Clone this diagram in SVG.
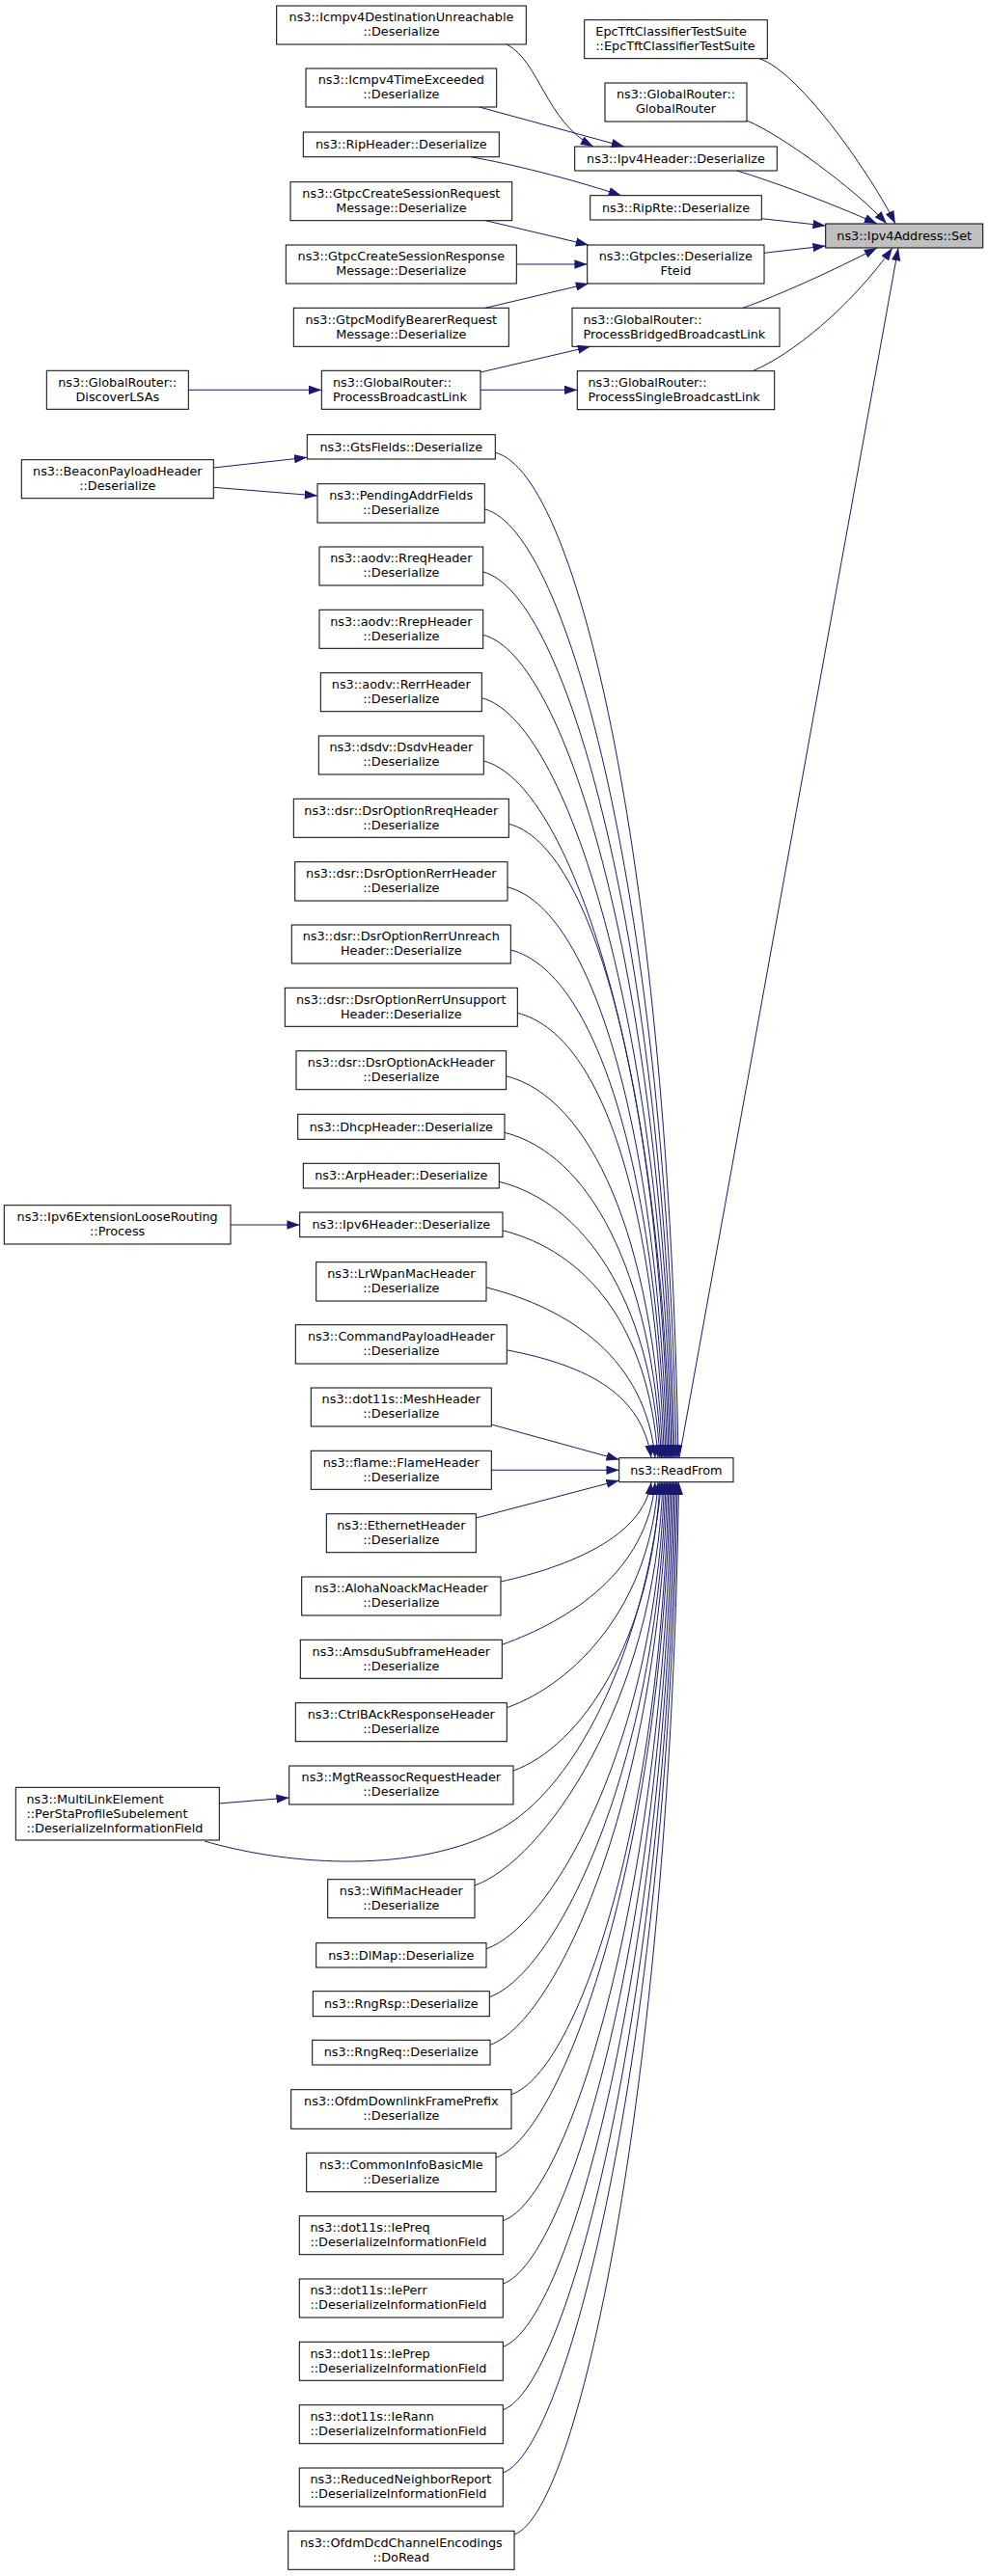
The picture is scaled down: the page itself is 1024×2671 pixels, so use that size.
<svg xmlns="http://www.w3.org/2000/svg" width="1024" height="2671" viewBox="0 0 1024 2671">
<style>
.n rect{fill:#ffffff;stroke:#000000;stroke-width:1}
.n rect.root{fill:#bfbfbf}
text{font-family:"DejaVu Sans","Liberation Sans",sans-serif;font-size:12.8px;fill:#000000}
text.c{text-anchor:middle}
text.l{text-anchor:start}
#edges path{fill:none;stroke:#191970;stroke-width:1;marker-end:url(#ah)}
</style>
<defs>
<marker id="ah" viewBox="0 0 10 7" refX="10" refY="3.5" markerWidth="13.3" markerHeight="9.3" markerUnits="userSpaceOnUse" orient="auto"><path d="M0,0 L10,3.5 L0,7 z" fill="#191970"/></marker>
</defs>
<rect width="1024" height="2671" fill="#ffffff"/>
<g id="nodes">
<g id="n_icmpdest" class="n"><rect x="286.7" y="6" width="258.6" height="40"/><text class="c"><tspan x="416" y="22.3">ns3::Icmpv4DestinationUnreachable</tspan><tspan x="416" y="37.3">::Deserialize</tspan></text></g>
<g id="n_icmptime" class="n"><rect x="317" y="71" width="197.7" height="40"/><text class="c"><tspan x="415.85" y="87.3">ns3::Icmpv4TimeExceeded</tspan><tspan x="415.85" y="102.3">::Deserialize</tspan></text></g>
<g id="n_ripheader" class="n"><rect x="314.3" y="137" width="203" height="25.7"/><text class="c" x="415.8" y="154.2">ns3::RipHeader::Deserialize</text></g>
<g id="n_gtpcreq" class="n"><rect x="301" y="188.7" width="229.7" height="40"/><text class="c"><tspan x="415.85" y="205">ns3::GtpcCreateSessionRequest</tspan><tspan x="415.85" y="220">Message::Deserialize</tspan></text></g>
<g id="n_gtpcresp" class="n"><rect x="296.3" y="254" width="239" height="40"/><text class="c"><tspan x="415.8" y="270.3">ns3::GtpcCreateSessionResponse</tspan><tspan x="415.8" y="285.3">Message::Deserialize</tspan></text></g>
<g id="n_gtpcmod" class="n"><rect x="304.3" y="319.3" width="223" height="40"/><text class="c"><tspan x="415.8" y="335.6">ns3::GtpcModifyBearerRequest</tspan><tspan x="415.8" y="350.6">Message::Deserialize</tspan></text></g>
<g id="n_procbcast" class="n"><rect x="333.3" y="384.3" width="164.7" height="40"/><text class="l"><tspan x="345" y="400.6">ns3::GlobalRouter::</tspan><tspan x="345" y="415.6">ProcessBroadcastLink</tspan></text></g>
<g id="n_discover" class="n"><rect x="48.3" y="384.3" width="147" height="40"/><text class="c"><tspan x="121.8" y="400.6">ns3::GlobalRouter::</tspan><tspan x="121.8" y="415.6">DiscoverLSAs</tspan></text></g>
<g id="n_epctft" class="n"><rect x="605.7" y="20.7" width="189.6" height="40"/><text class="l"><tspan x="617.3" y="37">EpcTftClassifierTestSuite</tspan><tspan x="617.3" y="52">::EpcTftClassifierTestSuite</tspan></text></g>
<g id="n_grouter" class="n"><rect x="627" y="86" width="147" height="40"/><text class="c"><tspan x="700.5" y="102.3">ns3::GlobalRouter::</tspan><tspan x="700.5" y="117.3">GlobalRouter</tspan></text></g>
<g id="n_ipv4hdr" class="n"><rect x="595.7" y="152" width="209.6" height="25"/><text class="c" x="700.5" y="168.8">ns3::Ipv4Header::Deserialize</text></g>
<g id="n_riprte" class="n"><rect x="611.7" y="202.7" width="177.6" height="25.3"/><text class="c" x="700.5" y="219.6">ns3::RipRte::Deserialize</text></g>
<g id="n_fteid" class="n"><rect x="608.7" y="254" width="183.3" height="40"/><text class="c"><tspan x="700.35" y="270.3">ns3::GtpcIes::Deserialize</tspan><tspan x="700.35" y="285.3">Fteid</tspan></text></g>
<g id="n_bridged" class="n"><rect x="593" y="319.3" width="215" height="40"/><text class="l"><tspan x="604.5" y="335.6">ns3::GlobalRouter::</tspan><tspan x="604.5" y="350.6">ProcessBridgedBroadcastLink</tspan></text></g>
<g id="n_single" class="n"><rect x="598.3" y="384.7" width="204.4" height="40"/><text class="l"><tspan x="609.5" y="401">ns3::GlobalRouter::</tspan><tspan x="609.5" y="416">ProcessSingleBroadcastLink</tspan></text></g>
<g id="n_set" class="n"><rect class="root" x="855.7" y="232" width="163" height="25"/><text class="c" x="937.2" y="248.8">ns3::Ipv4Address::Set</text></g>
<g id="n_readfrom" class="n"><rect x="641.7" y="1511.7" width="118.3" height="25"/><text class="c" x="700.85" y="1528.5">ns3::ReadFrom</text></g>
<g id="n_gts" class="n"><rect x="318.3" y="450.7" width="195" height="25.3"/><text class="c" x="415.8" y="467.6">ns3::GtsFields::Deserialize</text></g>
<g id="n_beacon" class="n"><rect x="22.3" y="476.7" width="199" height="40"/><text class="c"><tspan x="121.8" y="493">ns3::BeaconPayloadHeader</tspan><tspan x="121.8" y="508">::Deserialize</tspan></text></g>
<g id="n_pending" class="n"><rect x="329" y="501.7" width="173.3" height="40.3"/><text class="c"><tspan x="415.65" y="518.2">ns3::PendingAddrFields</tspan><tspan x="415.65" y="533.2">::Deserialize</tspan></text></g>
<g id="n_rreq" class="n"><rect x="331" y="567" width="169.7" height="40"/><text class="c"><tspan x="415.85" y="583.3">ns3::aodv::RreqHeader</tspan><tspan x="415.85" y="598.3">::Deserialize</tspan></text></g>
<g id="n_rrep" class="n"><rect x="331" y="632.3" width="169.7" height="40"/><text class="c"><tspan x="415.85" y="648.6">ns3::aodv::RrepHeader</tspan><tspan x="415.85" y="663.6">::Deserialize</tspan></text></g>
<g id="n_rerr" class="n"><rect x="332.3" y="697.7" width="167" height="40"/><text class="c"><tspan x="415.8" y="714">ns3::aodv::RerrHeader</tspan><tspan x="415.8" y="729">::Deserialize</tspan></text></g>
<g id="n_dsdv" class="n"><rect x="330.3" y="763" width="171" height="40"/><text class="c"><tspan x="415.8" y="779.3">ns3::dsdv::DsdvHeader</tspan><tspan x="415.8" y="794.3">::Deserialize</tspan></text></g>
<g id="n_dsrrreq" class="n"><rect x="304.3" y="828.3" width="223" height="40"/><text class="c"><tspan x="415.8" y="844.6">ns3::dsr::DsrOptionRreqHeader</tspan><tspan x="415.8" y="859.6">::Deserialize</tspan></text></g>
<g id="n_dsrrerr" class="n"><rect x="305.7" y="893.7" width="220.3" height="40.3"/><text class="c"><tspan x="415.85" y="910.15">ns3::dsr::DsrOptionRerrHeader</tspan><tspan x="415.85" y="925.15">::Deserialize</tspan></text></g>
<g id="n_unreach" class="n"><rect x="302.3" y="959" width="227" height="40"/><text class="c"><tspan x="415.8" y="975.3">ns3::dsr::DsrOptionRerrUnreach</tspan><tspan x="415.8" y="990.3">Header::Deserialize</tspan></text></g>
<g id="n_unsupport" class="n"><rect x="295.3" y="1024.3" width="241" height="40"/><text class="c"><tspan x="415.8" y="1040.6">ns3::dsr::DsrOptionRerrUnsupport</tspan><tspan x="415.8" y="1055.6">Header::Deserialize</tspan></text></g>
<g id="n_ack" class="n"><rect x="307" y="1089.7" width="217.6" height="40"/><text class="c"><tspan x="415.8" y="1106">ns3::dsr::DsrOptionAckHeader</tspan><tspan x="415.8" y="1121">::Deserialize</tspan></text></g>
<g id="n_dhcp" class="n"><rect x="308.7" y="1155.3" width="214.3" height="26"/><text class="c" x="415.85" y="1172.6">ns3::DhcpHeader::Deserialize</text></g>
<g id="n_arp" class="n"><rect x="314.3" y="1206.3" width="203" height="25.7"/><text class="c" x="415.8" y="1223.45">ns3::ArpHeader::Deserialize</text></g>
<g id="n_ipv6ext" class="n"><rect x="4.3" y="1249.7" width="234.7" height="40.3"/><text class="c"><tspan x="121.65" y="1266.15">ns3::Ipv6ExtensionLooseRouting</tspan><tspan x="121.65" y="1281.15">::Process</tspan></text></g>
<g id="n_ipv6hdr" class="n"><rect x="310.7" y="1257" width="210.3" height="25.7"/><text class="c" x="415.85" y="1274.15">ns3::Ipv6Header::Deserialize</text></g>
<g id="n_lrwpan" class="n"><rect x="327.7" y="1308.7" width="176.3" height="40.3"/><text class="c"><tspan x="415.85" y="1325.15">ns3::LrWpanMacHeader</tspan><tspan x="415.85" y="1340.15">::Deserialize</tspan></text></g>
<g id="n_cmdpayload" class="n"><rect x="306.3" y="1373.7" width="219" height="40.3"/><text class="c"><tspan x="415.8" y="1390.15">ns3::CommandPayloadHeader</tspan><tspan x="415.8" y="1405.15">::Deserialize</tspan></text></g>
<g id="n_mesh" class="n"><rect x="322.3" y="1439" width="187" height="40"/><text class="c"><tspan x="415.8" y="1455.3">ns3::dot11s::MeshHeader</tspan><tspan x="415.8" y="1470.3">::Deserialize</tspan></text></g>
<g id="n_flame" class="n"><rect x="322.3" y="1504.3" width="187" height="40"/><text class="c"><tspan x="415.8" y="1520.6">ns3::flame::FlameHeader</tspan><tspan x="415.8" y="1535.6">::Deserialize</tspan></text></g>
<g id="n_ethernet" class="n"><rect x="338.3" y="1569.7" width="155" height="40"/><text class="c"><tspan x="415.8" y="1586">ns3::EthernetHeader</tspan><tspan x="415.8" y="1601">::Deserialize</tspan></text></g>
<g id="n_aloha" class="n"><rect x="312.7" y="1635" width="206.3" height="40"/><text class="c"><tspan x="415.85" y="1651.3">ns3::AlohaNoackMacHeader</tspan><tspan x="415.85" y="1666.3">::Deserialize</tspan></text></g>
<g id="n_amsdu" class="n"><rect x="311.3" y="1700.3" width="209" height="40"/><text class="c"><tspan x="415.8" y="1716.6">ns3::AmsduSubframeHeader</tspan><tspan x="415.8" y="1731.6">::Deserialize</tspan></text></g>
<g id="n_ctrlback" class="n"><rect x="306.3" y="1765.7" width="219" height="40"/><text class="c"><tspan x="415.8" y="1782">ns3::CtrlBAckResponseHeader</tspan><tspan x="415.8" y="1797">::Deserialize</tspan></text></g>
<g id="n_mgtreassoc" class="n"><rect x="299.7" y="1831" width="232.3" height="40"/><text class="c"><tspan x="415.85" y="1847.3">ns3::MgtReassocRequestHeader</tspan><tspan x="415.85" y="1862.3">::Deserialize</tspan></text></g>
<g id="n_multilink" class="n"><rect x="16.3" y="1853.3" width="211" height="54.7"/><text class="l"><tspan x="27.5" y="1869.95">ns3::MultiLinkElement</tspan><tspan x="27.5" y="1884.95">::PerStaProfileSubelement</tspan><tspan x="27.5" y="1899.95">::DeserializeInformationField</tspan></text></g>
<g id="n_wifimac" class="n"><rect x="339.7" y="1948.7" width="152.3" height="40"/><text class="c"><tspan x="415.85" y="1965">ns3::WifiMacHeader</tspan><tspan x="415.85" y="1980">::Deserialize</tspan></text></g>
<g id="n_dlmap" class="n"><rect x="327.7" y="2014.7" width="176.3" height="25.3"/><text class="c" x="415.85" y="2031.65">ns3::DlMap::Deserialize</text></g>
<g id="n_rngrsp" class="n"><rect x="324.3" y="2064.7" width="183" height="26"/><text class="c" x="415.8" y="2082">ns3::RngRsp::Deserialize</text></g>
<g id="n_rngreq" class="n"><rect x="323.7" y="2115.3" width="184.3" height="25.7"/><text class="c" x="415.85" y="2132.45">ns3::RngReq::Deserialize</text></g>
<g id="n_ofdmdl" class="n"><rect x="301.7" y="2166.7" width="228.3" height="40.6"/><text class="c"><tspan x="415.85" y="2183.3">ns3::OfdmDownlinkFramePrefix</tspan><tspan x="415.85" y="2198.3">::Deserialize</tspan></text></g>
<g id="n_commoninfo" class="n"><rect x="317.7" y="2232.3" width="196.3" height="40.4"/><text class="c"><tspan x="415.85" y="2248.8">ns3::CommonInfoBasicMle</tspan><tspan x="415.85" y="2263.8">::Deserialize</tspan></text></g>
<g id="n_iepreq" class="n"><rect x="310.3" y="2297.7" width="211" height="40"/><text class="l"><tspan x="321.5" y="2314">ns3::dot11s::IePreq</tspan><tspan x="321.5" y="2329">::DeserializeInformationField</tspan></text></g>
<g id="n_ieperr" class="n"><rect x="310.3" y="2363" width="211" height="40"/><text class="l"><tspan x="321.5" y="2379.3">ns3::dot11s::IePerr</tspan><tspan x="321.5" y="2394.3">::DeserializeInformationField</tspan></text></g>
<g id="n_ieprep" class="n"><rect x="310.3" y="2428.3" width="211" height="40"/><text class="l"><tspan x="321.5" y="2444.6">ns3::dot11s::IePrep</tspan><tspan x="321.5" y="2459.6">::DeserializeInformationField</tspan></text></g>
<g id="n_ierann" class="n"><rect x="310.3" y="2493.7" width="211" height="40"/><text class="l"><tspan x="321.5" y="2510">ns3::dot11s::IeRann</tspan><tspan x="321.5" y="2525">::DeserializeInformationField</tspan></text></g>
<g id="n_reduced" class="n"><rect x="310.3" y="2559" width="211" height="40"/><text class="l"><tspan x="321.5" y="2575.3">ns3::ReducedNeighborReport</tspan><tspan x="321.5" y="2590.3">::DeserializeInformationField</tspan></text></g>
<g id="n_ofdmdcd" class="n"><rect x="298.7" y="2624.3" width="234.3" height="40"/><text class="c"><tspan x="415.85" y="2640.6">ns3::OfdmDcdChannelEncodings</tspan><tspan x="415.85" y="2655.6">::DoRead</tspan></text></g>
</g>
<g id="edges">
<path d="M525.3,46 C560,65 565,125 615,152"/>
<path d="M496.7,111 L647,152"/>
<path d="M488,162.7 C530,170 590,185 644,202.7"/>
<path d="M503.3,228.7 L610,254"/>
<path d="M535.3,274 L608.7,274"/>
<path d="M503,319.3 L610,294"/>
<path d="M195.3,404.3 L333.3,404.3"/>
<path d="M498,386 L612,359.3"/>
<path d="M498,404.3 L598.3,404.3"/>
<path d="M787,60.7 C830,75 905,185 928,232"/>
<path d="M774,125 C810,140 885,195 919,232"/>
<path d="M763.7,177 C800,188 860,210 909,232"/>
<path d="M789.3,226.7 L855.7,234"/>
<path d="M792,262.3 L855.7,255"/>
<path d="M770,319.3 C805,307 865,280 909,257"/>
<path d="M780,384.7 C820,368 880,320 925,257"/>
<path d="M704,1511.7 L931,257"/>
<path d="M221.3,485 L318.3,474.3"/>
<path d="M221.3,505.3 L329,514"/>
<path d="M239,1270 L310.7,1270"/>
<path d="M227.3,1870 L299.7,1864"/>
<path d="M513.3,469.3 C600.3,491.3 693,907.1 703,1511.7"/>
<path d="M502.3,527.9 C589.3,549.9 691,941.1 701,1511.7"/>
<path d="M500.7,593 C587.7,615 689,978.9 699,1511.7"/>
<path d="M500.7,658.3 C587.7,680.3 687.5,1016.7 697.5,1511.7"/>
<path d="M499.3,723.7 C586.3,745.7 686,1054.7 696,1511.7"/>
<path d="M501.3,789 C588.3,811 684.5,1092.5 694.5,1511.7"/>
<path d="M527.3,854.3 C614.3,876.3 683,1130.4 693,1511.7"/>
<path d="M526,919.8 C613,941.8 681.5,1168.4 691.5,1511.7"/>
<path d="M529.3,985 C616.3,1007 680,1206.2 690,1511.7"/>
<path d="M536.3,1050.3 C623.3,1072.3 678.5,1244.1 688.5,1511.7"/>
<path d="M524.6,1115.7 C611.6,1137.7 677,1282 687,1511.7"/>
<path d="M523,1174.3 C610,1196.3 675.5,1316 685.5,1511.7"/>
<path d="M517.3,1225.2 C604.3,1247.2 674,1345.5 684,1511.7"/>
<path d="M521,1275.8 C608,1297.8 672,1374.9 682,1511.7"/>
<path d="M504,1334.9 C591,1356.9 669,1409.2 679,1511.7"/>
<path d="M525.3,1399.8 C612.3,1416.6 665,1446.8 675,1511.7"/>
<path d="M509.3,1477 L641.7,1513.5"/>
<path d="M509.3,1524.3 L641.7,1524.3"/>
<path d="M493.3,1574 L641.7,1535"/>
<path d="M519,1640 C589,1624.5 667,1593.5 675,1536.7"/>
<path d="M520.3,1705.3 C590.3,1680.3 671,1629.4 679,1536.7"/>
<path d="M525.3,1770.7 C595.3,1745.7 674,1665.4 682,1536.7"/>
<path d="M532,1836 C602,1811 676,1701.3 684,1536.7"/>
<path d="M212,1909 C290,1932 420,1945 512,1900 C604,1855 672,1690 685.5,1536.7"/>
<path d="M492,1955 C562,1930 679,1766.8 687,1536.7"/>
<path d="M504,2020.7 C574,1995.7 680.5,1802.9 688.5,1536.7"/>
<path d="M507.3,2070.7 C577.3,2045.7 682,1830.4 690,1536.7"/>
<path d="M508,2120.3 C578,2095.3 683.5,1857.7 691.5,1536.7"/>
<path d="M530,2171.7 C600,2146.7 685,1885.9 693,1536.7"/>
<path d="M514,2237.3 C584,2212.3 686.5,1922 694.5,1536.7"/>
<path d="M521.3,2302.7 C591.3,2277.7 688,1958 696,1536.7"/>
<path d="M521.3,2368 C591.3,2343 689.5,1993.9 697.5,1536.7"/>
<path d="M521.3,2433.3 C591.3,2408.3 691,2029.8 699,1536.7"/>
<path d="M521.3,2498.7 C591.3,2473.7 692.5,2065.8 700.5,1536.7"/>
<path d="M521.3,2564 C591.3,2539 694,2101.7 702,1536.7"/>
<path d="M533,2628 C603,2603 695.5,2136.9 703.5,1536.7"/>
</g>
</svg>
